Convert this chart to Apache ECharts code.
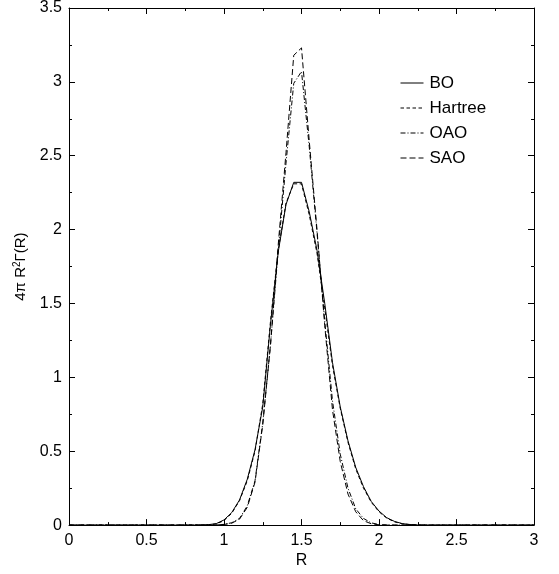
<!DOCTYPE html>
<html>
<head>
<meta charset="utf-8">
<script src="https://cdn.jsdelivr.net/npm/echarts@6/dist/echarts.min.js"></script>
<style>html,body{margin:0;padding:0;background:#fff;}#c{width:559px;height:574px;}</style>
</head>
<body>
<div id="c"></div>
<script>
const R = [0,0.05,0.1,0.15,0.2,0.25,0.3,0.35,0.4,0.45,0.5,0.55,0.6,0.65,0.7,0.75,0.8,0.85,0.9,0.95,
  1.0,1.05,1.1,1.15,1.2,1.25,1.3,1.35,1.4,1.45,1.5,1.55,1.6,1.65,1.7,1.75,1.8,1.85,1.9,1.95,
  2.0,2.05,2.1,2.15,2.2,2.25,2.3,2.35,2.4,2.45,2.5,2.55,2.6,2.65,2.7,2.75,2.8,2.85,2.9,2.95,3.0];
const BO = [0,0,0,0,0,0,0,0,0,0,0,0,0,0,0,0,0,0.001,0.003,0.01,
  0.035,0.085,0.17,0.31,0.51,0.8,1.36,1.85,2.17,2.32,2.32,2.12,1.86,1.5,1.1,0.8,0.57,0.39,0.26,0.16,
  0.095,0.05,0.025,0.01,0.004,0.001,0,0,0,0,0,0,0,0,0,0,0,0,0,0,0];
const Hartree = [0,0,0,0,0,0,0,0,0,0,0,0,0,0,0,0,0,0.001,0.002,0.008,
  0.03,0.08,0.165,0.3,0.5,0.82,1.38,1.86,2.18,2.31,2.31,2.1,1.84,1.47,1.08,0.79,0.56,0.38,0.25,0.155,
  0.09,0.047,0.022,0.009,0.003,0.001,0,0,0,0,0,0,0,0,0,0,0,0,0,0,0];
const OAO = [0,0,0,0,0,0,0,0,0,0,0,0,0,0,0,0,0,0,0,0.001,
  0.005,0.016,0.045,0.13,0.3,0.69,1.22,1.86,2.45,2.99,3.07,2.56,1.98,1.38,0.84,0.48,0.25,0.11,0.045,0.015,
  0.004,0.001,0,0,0,0,0,0,0,0,0,0,0,0,0,0,0,0,0,0,0];
const SAO = [0,0,0,0,0,0,0,0,0,0,0,0,0,0,0,0,0,0,0,0.001,
  0.004,0.013,0.04,0.12,0.29,0.68,1.22,1.9,2.52,3.18,3.23,2.6,2.0,1.35,0.78,0.43,0.21,0.09,0.03,0.009,
  0.002,0,0,0,0,0,0,0,0,0,0,0,0,0,0,0,0,0,0,0,0];
const xTicks = ['0','0.5','1','1.5','2','2.5','3'];
const yTicks = ['0','0.5','1','1.5','2','2.5','3','3.5'];

const font = 'Liberation Sans, Arial, sans-serif';
function pairs(v){ return R.map((r,i)=>[r,v[i]]); }
function mkSeries(name, data, dash){
  return {name:name, type:'line', data:pairs(data), symbol:'none', symbolSize:0, showSymbol:false,
    lineStyle:{color:'#000', width:1, type:dash}, itemStyle:{color:'#000'}, animation:false, z:3};
}
const axisCommon = {
  axisLine:{show:true, onZero:false, lineStyle:{color:'#000', width:1}},
  axisTick:{show:true, inside:true, length:6, lineStyle:{color:'#000'}},
  minorTick:{show:true, splitNumber:2, length:3, lineStyle:{color:'#000'}},
  splitLine:{show:false}
};
const chart = echarts.init(document.getElementById('c'), null, {renderer:'canvas'});
chart.setOption({
  backgroundColor:'#fff',
  animation:false,
  grid:{left:69, right:25, top:7, bottom:43, containLabel:false},
  xAxis:[
    Object.assign({type:'value', min:0, max:3, interval:0.5, position:'bottom',
      name:'R', nameLocation:'middle', nameGap:23,
      nameTextStyle:{fontFamily:font, fontSize:16, color:'#000'},
      axisLabel:{fontFamily:font, fontSize:16, color:'#000', margin:7,
        formatter:v=>xTicks[Math.round(v/0.5)]}}, axisCommon),
    Object.assign({type:'value', min:0, max:3, interval:0.5, position:'top',
      axisLabel:{show:false}}, axisCommon)
  ],
  yAxis:[
    Object.assign({type:'value', min:0, max:3.5, interval:0.5, position:'left',
      name:'{n|4π R}{s|2}{n|Γ(R)}', nameLocation:'middle', nameGap:34,
      nameTextStyle:{fontFamily:font, fontSize:15, color:'#000',
        rich:{n:{fontFamily:font, fontSize:15, color:'#000'}, s:{fontFamily:font, fontSize:10, color:'#000', verticalAlign:'top', padding:[0,0,8,0]}}},
      axisLabel:{fontFamily:font, fontSize:16, color:'#000', margin:7,
        formatter:v=>yTicks[Math.round(v/0.5)]}}, axisCommon),
    Object.assign({type:'value', min:0, max:3.5, interval:0.5, position:'right',
      axisLabel:{show:false}}, axisCommon)
  ],
  legend:{orient:'vertical', left:395, top:69, itemWidth:23, itemHeight:14, itemGap:7,
    itemStyle:{opacity:0},
    lineStyle:{width:1},
    textStyle:{fontFamily:font, fontSize:17, lineHeight:18, color:'#000', padding:[0,0,0,1]},
    data:['BO','Hartree','OAO','SAO']},
  series:[
    mkSeries('BO', BO, 'solid'),
    mkSeries('Hartree', Hartree, [3.5,2.5]),
    mkSeries('OAO', OAO, [5,2,1,2]),
    mkSeries('SAO', SAO, [6,3])
  ]
});
</script>
</body>
</html>
